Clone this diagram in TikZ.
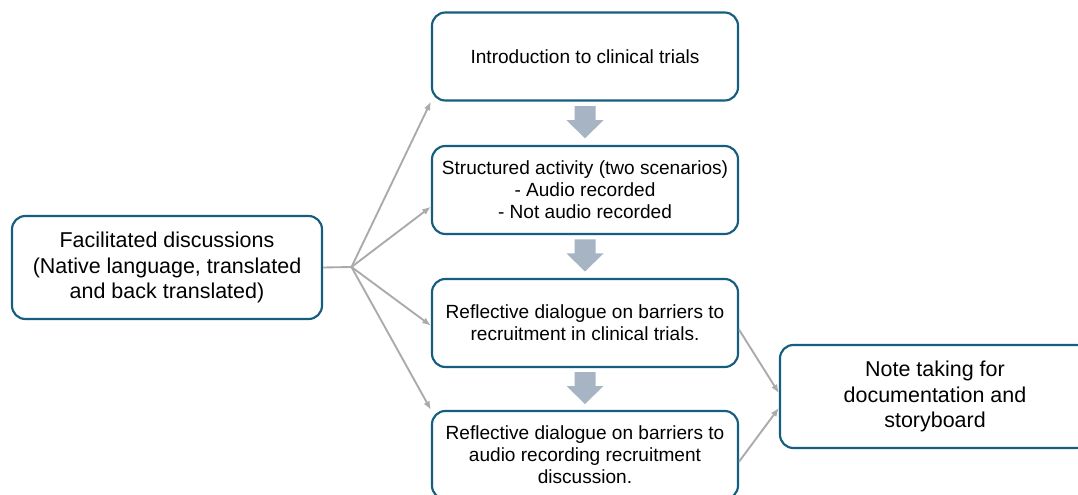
\documentclass[tikz,border=0pt]{standalone}
\usepackage{fontspec}
\setmainfont{Liberation Sans}
\usetikzlibrary{calc,arrows.meta}
\definecolor{boxblue}{RGB}{22,94,128}
\definecolor{linkgray}{RGB}{170,170,170}
\definecolor{stepgray}{RGB}{167,180,196}
\tikzset{>={Latex[length=6.5pt,width=5pt]}}
\tikzset{
  box/.style={draw=boxblue,line width=1.6pt,rounded corners=10pt,align=center,inner sep=0pt,
    minimum width=229.5pt,minimum height=66pt,font=\fontsize{14.3}{16.5}\selectfont},
  bigbox/.style={box,minimum width=232.5pt,minimum height=77.25pt,font=\fontsize{16.1}{19}\selectfont},
  link/.style={draw=linkgray,line width=1.4pt},
  blockarrow/.style={fill=stepgray}
}

\begin{document}
\begin{tikzpicture}[x=0.75pt,y=-0.75pt]
\clip (0,0) rectangle (1078,495);
\fill[white] (0,0) rectangle (1078,495);
\node[bigbox] (fac) at (167,267.5) {Facilitated discussions\\(Native language, translated\\and back translated)};
\node[box] (intro) at (585,56.5) {Introduction to clinical trials};
\node[box] (activity) at (585,190) {Structured activity (two scenarios)\\- Audio recorded\\- Not audio recorded};
\node[box] (reflA) at (585,323) {Reflective dialogue on barriers to\\recruitment in clinical trials.};
\node[box] (reflB) at (585,455) {Reflective dialogue on barriers to\\audio recording recruitment\\discussion.};
\node[bigbox] (note) at (935,396.5) {Note taking for\\documentation and\\storyboard};
\coordinate (hub) at (351.5,267);
% fan out from the discussions box
\draw[link] (fac.east) -- (hub);
\draw[link,->] (hub) -- (intro.south west);
\draw[link,->] (hub) -- ([yshift=-12.5pt]activity.west);
\draw[link,->] (hub) -- ([yshift=-2pt]reflA.west);
\draw[link,->] (hub) -- (reflB.north west);
% into the note taking box
\draw[link,->] ([yshift=-5pt]reflA.east) -- ([yshift=2.5pt]note.west);
\draw[link,->] ([yshift=-5pt]reflB.east) -- ([yshift=-8.5pt]note.west);
% block arrows between the steps
\foreach \a/\b in {intro/activity,activity/reflA,reflA/reflB}
  \fill[blockarrow] ($(\a.south)!0.5!(\b.north)$) +(-10.5,-17) -- +(10.5,-17) -- +(10.5,-3)
    -- +(18.5,-3) -- +(0,15) -- +(-18.5,-3) -- +(-10.5,-3) -- cycle;
\end{tikzpicture}
\end{document}
